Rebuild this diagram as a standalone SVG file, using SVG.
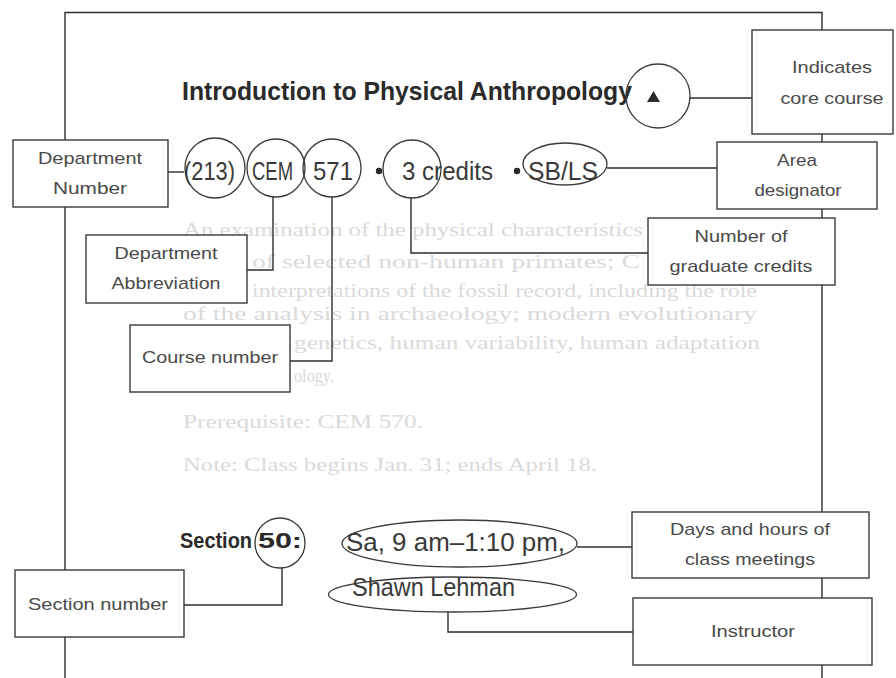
<svg xmlns="http://www.w3.org/2000/svg" width="896" height="678" viewBox="0 0 896 678">
<style>
.bg{fill:#ffffff}
.ln{fill:none;stroke:#2e2e2e;stroke-width:1.4}
.box{fill:#ffffff;stroke:#3a3a3a;stroke-width:1.4}
.ring{fill:none;stroke:#3a3a3a;stroke-width:1.3}
.lbl{font-family:"Liberation Sans",Arial,sans-serif;font-size:17px;fill:#4a4a4a;text-anchor:middle}
.row{font-family:"Liberation Sans",Arial,sans-serif;font-size:26px;fill:#3a3a3a}
.bold{font-family:"Liberation Sans",Arial,sans-serif;font-weight:bold;fill:#2a2a2a}
.ghost{font-family:"Liberation Serif","Times New Roman",serif;font-size:19px;fill:#dadada}
</style>
<rect class="bg" x="0" y="0" width="896" height="678"/>

<g id="ghost-text">
<text class="ghost" x="183" y="236" textLength="460" lengthAdjust="spacingAndGlyphs">An examination of the physical characteristics</text>
<text class="ghost" x="252" y="268" textLength="388" lengthAdjust="spacingAndGlyphs">of selected non-human primates; C</text>
<text class="ghost" x="252" y="297" textLength="505" lengthAdjust="spacingAndGlyphs">interpretations of the fossil record, including the role</text>
<text class="ghost" x="183" y="320" textLength="574" lengthAdjust="spacingAndGlyphs">of the analysis in archaeology; modern evolutionary</text>
<text class="ghost" x="294" y="349" textLength="466" lengthAdjust="spacingAndGlyphs">genetics, human variability, human adaptation</text>
<text class="ghost" x="294" y="382" textLength="40" lengthAdjust="spacingAndGlyphs">ology.</text>
<text class="ghost" x="183" y="428" textLength="240" lengthAdjust="spacingAndGlyphs">Prerequisite: CEM 570.</text>
<text class="ghost" x="183" y="471" textLength="414" lengthAdjust="spacingAndGlyphs">Note: Class begins Jan. 31; ends April 18.</text>
</g>

<g id="connectors">
<polyline class="ln" points="65,678 65,12.5 822,12.5 822,678"/>
<line class="ln" x1="690" y1="98" x2="752" y2="98"/>
<line class="ln" x1="168" y1="172" x2="184" y2="172"/>
<line class="ln" x1="607" y1="168" x2="717" y2="168"/>
<polyline class="ln" points="411,198 411,253 648,253"/>
<polyline class="ln" points="273,197 273,270 247,270"/>
<polyline class="ln" points="332,197 332,361 290,361"/>
<polyline class="ln" points="282,568 282,605 184,605"/>
<line class="ln" x1="577" y1="547" x2="632" y2="547"/>
<polyline class="ln" points="448,612 448,632 633,632"/>
</g>

<g id="course-entry">
<text class="bold" x="182" y="100" font-size="25" textLength="450" lengthAdjust="spacingAndGlyphs">Introduction to Physical Anthropology</text>
<polygon points="647,102 653.5,91 660,102" fill="#2a2a2a"/>
<text class="row" x="184" y="180" textLength="51" lengthAdjust="spacingAndGlyphs">(213)</text>
<text class="row" x="252" y="180" textLength="41" lengthAdjust="spacingAndGlyphs">CEM</text>
<text class="row" x="313" y="180" textLength="40" lengthAdjust="spacingAndGlyphs">571</text>
<circle cx="379" cy="171" r="3.2" fill="#2a2a2a"/>
<text class="row" x="402" y="180" textLength="91" lengthAdjust="spacingAndGlyphs">3 credits</text>
<circle cx="517" cy="171" r="3.2" fill="#2a2a2a"/>
<text class="row" x="528" y="180" textLength="70" lengthAdjust="spacingAndGlyphs">SB/LS</text>
<text class="bold" x="180" y="548" font-size="22" textLength="72" lengthAdjust="spacingAndGlyphs">Section</text>
<text class="bold" x="258" y="548" font-size="22" textLength="44" lengthAdjust="spacingAndGlyphs">50:</text>
<text class="row" x="346" y="551" font-size="21" textLength="219" lengthAdjust="spacingAndGlyphs">Sa, 9 am–1:10 pm,</text>
<text class="row" x="352" y="596" font-size="21" textLength="163" lengthAdjust="spacingAndGlyphs">Shawn Lehman</text>
</g>

<g id="highlights">
<circle class="ring" cx="658" cy="96" r="32"/>
<circle class="ring" cx="215" cy="168" r="30"/>
<circle class="ring" cx="276" cy="168" r="29"/>
<circle class="ring" cx="332" cy="168" r="29"/>
<circle class="ring" cx="412" cy="169" r="29"/>
<ellipse class="ring" cx="565" cy="164" rx="42" ry="21"/>
<circle class="ring" cx="280" cy="543" r="25"/>
<ellipse class="ring" cx="459.5" cy="543.5" rx="117.5" ry="23.5"/>
<ellipse class="ring" cx="452.5" cy="594.5" rx="124" ry="17.5"/>
</g>

<g id="node-core">
<rect class="box" x="752" y="30" width="141" height="104"/>
<text class="lbl" x="832" y="73" textLength="80" lengthAdjust="spacingAndGlyphs">Indicates</text>
<text class="lbl" x="832" y="104" textLength="103" lengthAdjust="spacingAndGlyphs">core course</text>
</g>
<g id="node-dept-number">
<rect class="box" x="13" y="140" width="155" height="67"/>
<text class="lbl" x="90" y="164" textLength="104" lengthAdjust="spacingAndGlyphs">Department</text>
<text class="lbl" x="90" y="194" textLength="74" lengthAdjust="spacingAndGlyphs">Number</text>
</g>
<g id="node-area">
<rect class="box" x="717" y="142" width="160" height="67"/>
<text class="lbl" x="797" y="166" textLength="40" lengthAdjust="spacingAndGlyphs">Area</text>
<text class="lbl" x="798" y="196" textLength="87" lengthAdjust="spacingAndGlyphs">designator</text>
</g>
<g id="node-graduate-credits">
<rect class="box" x="648" y="218" width="187" height="67"/>
<text class="lbl" x="741" y="242" textLength="93" lengthAdjust="spacingAndGlyphs">Number of</text>
<text class="lbl" x="741" y="272" textLength="143" lengthAdjust="spacingAndGlyphs">graduate credits</text>
</g>
<g id="node-dept-abbrev">
<rect class="box" x="86" y="235" width="161" height="68"/>
<text class="lbl" x="166" y="259" textLength="103" lengthAdjust="spacingAndGlyphs">Department</text>
<text class="lbl" x="166" y="289" textLength="109" lengthAdjust="spacingAndGlyphs">Abbreviation</text>
</g>
<g id="node-course-number">
<rect class="box" x="130" y="325" width="160" height="67"/>
<text class="lbl" x="210" y="363" textLength="136" lengthAdjust="spacingAndGlyphs">Course number</text>
</g>
<g id="node-days-hours">
<rect class="box" x="632" y="512" width="237" height="66"/>
<text class="lbl" x="750" y="535" textLength="160" lengthAdjust="spacingAndGlyphs">Days and hours of</text>
<text class="lbl" x="750" y="565" textLength="130" lengthAdjust="spacingAndGlyphs">class meetings</text>
</g>
<g id="node-section-number">
<rect class="box" x="15" y="570" width="169" height="67"/>
<text class="lbl" x="98" y="610" textLength="140" lengthAdjust="spacingAndGlyphs">Section number</text>
</g>
<g id="node-instructor">
<rect class="box" x="633" y="598" width="239" height="67"/>
<text class="lbl" x="753" y="637" textLength="84" lengthAdjust="spacingAndGlyphs">Instructor</text>
</g>
</svg>
